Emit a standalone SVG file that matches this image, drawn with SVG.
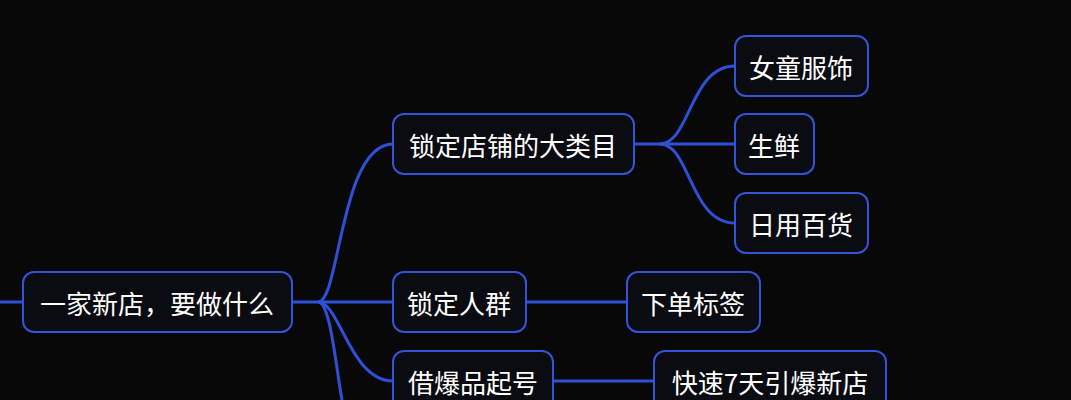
<svg xmlns="http://www.w3.org/2000/svg" width="1071" height="400" viewBox="0 0 1071 400">
<style>
.n rect{fill:#0b0b12;stroke:#3553d6;stroke-width:2}
.n text{fill:#fff;font-family:"Noto Sans CJK SC","Liberation Sans",sans-serif;font-size:26px;dominant-baseline:central}
#c path{fill:none;stroke:#2f4fd8;stroke-width:3}
</style>
<rect width="1071" height="400" fill="#080808"/>
<g id="c">
<path d="M0 302H23"/>
<path d="M292 302H318"/>
<path d="M318 302C340 302 340 144 393 144"/>
<path d="M318 302H393"/>
<path d="M318 302C340 302 350 381 393 381"/>
<path d="M318 302C330 302 335 360 342 400"/>
<path d="M634 144H660"/>
<path d="M660 144C690 144 690 66 735 66"/>
<path d="M660 144H735"/>
<path d="M660 144C690 144 690 223 735 223"/>
<path d="M526 302H627"/>
<path d="M553 381H654"/>
</g>
<g id="root" class="n"><rect x="23" y="272" width="269" height="60" rx="11"/><text x="157" y="302" text-anchor="middle">一家新店，要做什么</text></g>
<g id="n1" class="n"><rect x="393" y="114" width="241" height="60" rx="11"/><text x="513" y="144" text-anchor="middle">锁定店铺的大类目</text></g>
<g id="n2" class="n"><rect x="393" y="272" width="133" height="60" rx="11"/><text x="459" y="302" text-anchor="middle">锁定人群</text></g>
<g id="n3" class="n"><rect x="393" y="351" width="160" height="60" rx="11"/><text x="473" y="381" text-anchor="middle">借爆品起号</text></g>
<g id="n11" class="n"><rect x="735" y="36" width="133" height="60" rx="11"/><text x="801" y="66" text-anchor="middle">女童服饰</text></g>
<g id="n12" class="n"><rect x="735" y="114" width="79" height="60" rx="11"/><text x="774" y="144" text-anchor="middle">生鲜</text></g>
<g id="n13" class="n"><rect x="735" y="193" width="133" height="60" rx="11"/><text x="801" y="223" text-anchor="middle">日用百货</text></g>
<g id="n21" class="n"><rect x="627" y="272" width="133" height="60" rx="11"/><text x="693" y="302" text-anchor="middle">下单标签</text></g>
<g id="n31" class="n"><rect x="654" y="351" width="232" height="60" rx="11"/><text x="770" y="381" text-anchor="middle">快速7天引爆新店</text></g>
</svg>
